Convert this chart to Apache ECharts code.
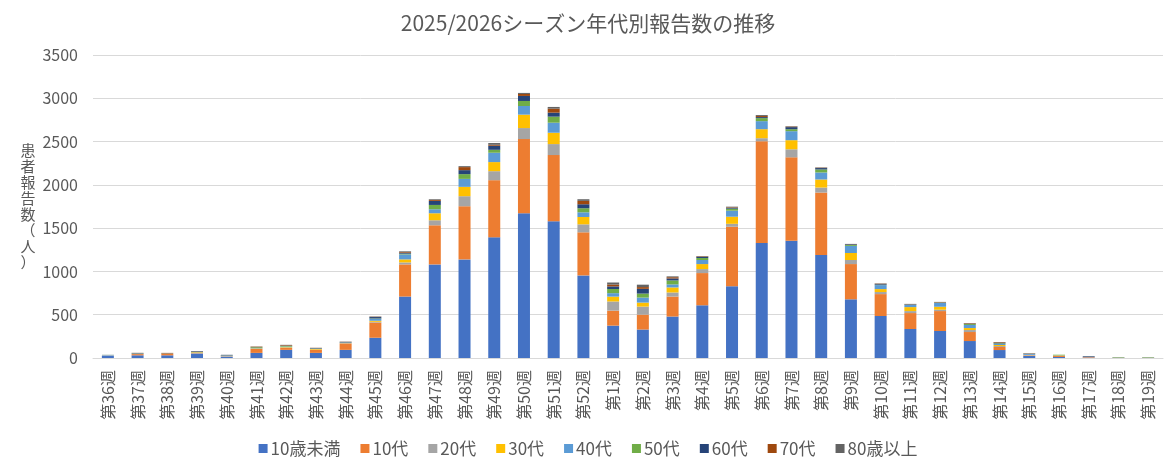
<!DOCTYPE html>
<html>
<head>
<meta charset="utf-8">
<script src="https://cdn.jsdelivr.net/npm/echarts@6/dist/echarts.min.js"></script>
<style>
html,body{margin:0;padding:0;background:#fff;}
#chart{width:1176px;height:468px;}
</style>
</head>
<body>
<div id="chart"></div>
<script>
var categories = ['第36週','第37週','第38週','第39週','第40週','第41週','第42週','第43週','第44週','第45週','第46週','第47週','第48週','第49週','第50週','第51週','第52週','第1週','第2週','第3週','第4週','第5週','第6週','第7週','第8週','第9週','第10週','第11週','第12週','第13週','第14週','第15週','第16週','第17週','第18週','第19週'];
var seriesNames = ['10歳未満','10代','20代','30代','40代','50代','60代','70代','80歳以上'];
var seriesColors = ['#4472C4','#ED7D31','#A5A5A5','#FFC000','#5B9BD5','#70AD47','#264478','#9E480E','#636363'];

var under10 = [24,31,31,51,12,59,94,59,94,234,710,1081,1139,1394,1672,1579,954,374,329,479,609,829,1329,1353,1190,678,485,335,312,196,92,23,12,6,3,3];
var age10s  = [2,14,16,4,3,46,23,35,74,176,371,452,614,660,857,765,498,173,172,231,372,687,1175,965,721,407,253,184,230,104,35,6,13,6,2,2];
var age20s  = [2,2,1,3,8,3,6,3,4,8,23,58,116,104,127,127,92,106,93,47,46,34,35,93,58,47,24,23,16,23,11,4,2,1,0,0];
var age30s  = [1,2,1,8,2,3,4,8,3,12,35,81,108,105,155,131,85,56,46,58,58,82,104,105,93,81,34,46,34,23,12,3,2,1,0,0];
var age40s  = [6,2,1,3,3,3,5,2,3,23,58,46,92,108,100,116,54,40,58,35,47,70,93,104,81,82,46,24,43,35,12,10,1,1,1,1];
var age50s  = [1,2,1,2,2,10,8,3,2,4,8,50,55,34,58,70,47,48,46,46,23,23,35,23,35,11,4,3,4,11,7,2,8,1,5,5];
var age60s  = [1,5,2,7,6,2,4,6,7,16,11,47,46,47,58,46,46,30,55,23,12,11,12,24,16,8,8,5,3,3,4,3,0,7,0,0];
var age70s  = [0,1,6,1,0,5,6,2,2,3,8,11,35,11,23,46,39,21,20,14,6,6,12,6,4,2,4,2,4,6,8,3,0,0,0,0];
var age80p  = [0,1,0,1,1,2,2,0,0,4,8,8,11,20,12,20,19,24,28,10,5,6,11,5,4,2,4,3,2,3,4,1,0,0,0,0];

var yTicks = [0,500,1000,1500,2000,2500,3000,3500];
var yAxisTitle = '患者報告数（人）';
var chartTitle = '2025/2026シーズン年代別報告数の推移';

var seriesData = [under10, age10s, age20s, age30s, age40s, age50s, age60s, age70s, age80p];
var FONT = '"Noto Sans CJK JP", "Noto Sans", sans-serif';
var TXT = '#595959';

var chart = echarts.init(document.getElementById('chart'), null, {renderer:'canvas'});
chart.setOption({
  animation: false,
  backgroundColor: '#ffffff',
  color: seriesColors,
  title: {
    text: chartTitle,
    left: 'center',
    top: 8,
    textStyle: {fontFamily: FONT, fontSize: 21, fontWeight: 'normal', color: TXT}
  },
  legend: {
    bottom: 6,
    left: 'center',
    itemWidth: 9,
    itemHeight: 9,
    itemGap: 20,
    icon: 'rect',
    data: seriesNames,
    textStyle: {fontFamily: FONT, fontSize: 17, color: TXT, padding: [0,0,0,-2]}
  },
  grid: {left: 93, right: 13, top: 55, bottom: 110, containLabel: false},
  xAxis: {
    type: 'category',
    data: categories,
    axisLine: {show: true, lineStyle: {color: '#D9D9D9', width: 1}},
    axisTick: {show: false},
    axisLabel: {rotate: 90, interval: 0, margin: 12, fontFamily: FONT, fontSize: 16, color: TXT}
  },
  yAxis: {
    type: 'value',
    min: yTicks[0],
    max: yTicks[yTicks.length-1],
    interval: 500,
    name: yAxisTitle.split('').join('\n'),
    nameLocation: 'middle',
    nameRotate: 0,
    nameGap: 65,
    nameTextStyle: {fontFamily: FONT, fontSize: 15, color: TXT, lineHeight: 16, align: 'center', verticalAlign: 'middle'},
    axisLine: {show: false},
    axisTick: {show: false},
    axisLabel: {margin: 15, fontFamily: FONT, fontSize: 16, color: TXT, formatter: function(v){ return String(v); }},
    splitLine: {lineStyle: {color: '#D9D9D9', width: 1}}
  },
  series: seriesNames.map(function(n, i){
    return {
      name: n,
      type: 'bar',
      stack: 'total',
      barWidth: 12,
      data: seriesData[i],
      itemStyle: {color: seriesColors[i]}
    };
  })
});
</script>
</body>
</html>
